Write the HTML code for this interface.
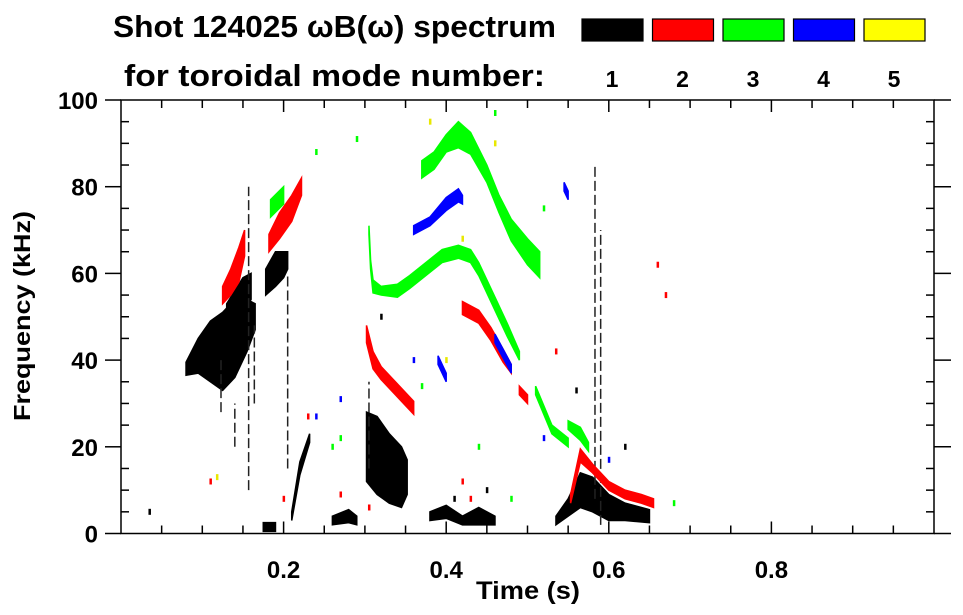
<!DOCTYPE html>
<html><head><meta charset="utf-8"><style>
body{margin:0;background:#fff;}
svg{display:block;font-family:"Liberation Sans",sans-serif;font-weight:bold;}
</style></head><body>
<svg id="c" width="963" height="615">
<text x="113" y="37" font-size="31" textLength="443" lengthAdjust="spacingAndGlyphs">Shot 124025 ωB(ω) spectrum</text>
<text x="124" y="86" font-size="31" textLength="421" lengthAdjust="spacingAndGlyphs">for toroidal mode number:</text>
<text x="30" y="316" font-size="23" text-anchor="middle" textLength="210" lengthAdjust="spacingAndGlyphs" transform="rotate(-90 30 316)">Frequency (kHz)</text>
<text x="528" y="599" font-size="25" text-anchor="middle" textLength="104" lengthAdjust="spacingAndGlyphs">Time (s)</text>
<g id="marks"></g>
<g id="axes"></g>
<g id="legend"></g>
</svg>
<script>
const xTicks=[0.2,0.4,0.6,0.8];
const yTicks=[0,20,40,60,80,100];
const modes=['1','2','3','4','5'];
const modeColors=['#000000','#ff0000','#00ff00','#0000ff','#ffff00'];
// tracks: [time s, freq kHz, half-width kHz]
const mode1Tracks=[
 [[0.080,38,1.5],[0.095,41,4],[0.11,42,7],[0.125,42,9],[0.14,45,9],[0.155,48,6],[0.165,50,3]],
 [[0.13,50,3],[0.15,55,4],[0.16,57,3]],
 [[0.178,58,3],[0.19,61,4],[0.20,62,3],[0.205,63,2]],
 [[0.210,4,1],[0.22,15,1.5],[0.232,22,1]],
 [[0.302,20,8],[0.315,18,9],[0.33,15,8],[0.345,13,7],[0.352,13,4]],
 [[0.38,4,1],[0.40,5,1.5],[0.42,3,1],[0.44,4,2],[0.46,3,1]],
 [[0.535,3,1],[0.55,6,2],[0.565,10,4],[0.58,9,4],[0.60,6,3],[0.62,5,2],[0.65,4,1.5]],
 [[0.26,3,1],[0.28,4,1.5],[0.29,3,1]],
 [[0.175,1.5,1],[0.19,1.5,1]]
];
const mode1Lines=[[0.157,10,80],[0.164,30,48],[0.205,15,60],[0.305,15,35],[0.583,8,85],[0.59,2,70],[0.123,28,40],[0.14,20,30]];
const mode2Tracks=[
 [[0.125,55,2],[0.135,58,3],[0.145,62,4],[0.152,67,3]],
 [[0.182,67,2],[0.195,71,3],[0.21,75,3],[0.222,80,2]],
 [[0.302,46,2],[0.31,40,2],[0.32,37,1.5],[0.335,34,1.5],[0.35,31,1.5],[0.36,29,1.5]],
 [[0.42,52,1.5],[0.44,50,1.5],[0.455,46,1.5],[0.47,41,1.5],[0.48,38,1]],
 [[0.553,8,1],[0.565,18,1.5],[0.58,15,1],[0.60,11,1],[0.62,9,1],[0.64,8,1],[0.655,7,1]],
 [[0.49,33,1],[0.50,31,1]]
];
const mode3Tracks=[
 [[0.184,75,2],[0.20,78,2]],
 [[0.305,70,1],[0.307,62,1],[0.31,57,1.5],[0.32,56,1],[0.34,56,1.5],[0.355,58,1.5],[0.375,61,1.5],[0.395,64,1.5],[0.415,65,1.5],[0.43,64,1.5],[0.44,61,1.5],[0.46,53,1.5],[0.475,47,1.5],[0.49,41,1]],
 [[0.37,84,2],[0.385,86,2],[0.40,90,2],[0.415,92,3],[0.43,90,2.5],[0.45,83,2],[0.465,76,2],[0.48,70,2.5],[0.50,65,3],[0.515,62,3]],
 [[0.51,33,1],[0.53,24,1],[0.55,21,1]],
 [[0.55,25,1],[0.565,23,1.5],[0.575,20,1]]
];
const mode4Tracks=[
 [[0.36,70,1],[0.38,72,1],[0.40,76,1.5],[0.415,78,1.5],[0.42,77,1]],
 [[0.545,80,1],[0.55,78,1]],
 [[0.39,40,1],[0.40,36,1]],
 [[0.46,45,1],[0.48,38,1]]
];
const mode1Dots=[[0.035,5],[0.32,50],[0.41,8],[0.45,10],[0.56,33],[0.62,20]];
const mode2Dots=[[0.11,12],[0.20,8],[0.27,9],[0.23,27],[0.42,12],[0.43,8],[0.66,62],[0.535,42],[0.67,55],[0.305,6]];
const mode3Dots=[[0.24,88],[0.29,91],[0.26,20],[0.27,22],[0.46,97],[0.48,8],[0.44,20],[0.52,75],[0.37,34],[0.68,7]];
const mode4Dots=[[0.24,27],[0.27,31],[0.36,40],[0.52,22],[0.6,17]];
const mode5Dots=[[0.118,13],[0.4,40],[0.42,68],[0.38,95],[0.46,90]];

const X0=121,X1=934,Y0=533.5,Y1=100;
const xs=t=>X0+t*(X1-X0);
const ys=f=>Y0-f/100*(Y0-Y1);
const NS='http://www.w3.org/2000/svg';
function mk(tag,attrs,parent){const e=document.createElementNS(NS,tag);for(const k in attrs)e.setAttribute(k,attrs[k]);parent.appendChild(e);return e;}
const marks=document.getElementById('marks');
const axes=document.getElementById('axes');
const legend=document.getElementById('legend');

function drawTracks(tracks,color,mode){
 tracks.forEach(tr=>{
  const top=tr.map(p=>xs(p[0])+','+ys(p[1]+p[2]));
  const bot=tr.slice().reverse().map(p=>xs(p[0])+','+ys(p[1]-p[2]));
  const e=mk('polygon',{points:top.concat(bot).join(' '),fill:color,stroke:color,'stroke-width':1.5},marks);
  
  
 });
}
function drawDots(dots,color,mode){
 dots.forEach(d=>{
  const e=mk('rect',{x:xs(d[0])-1,y:ys(d[1])-3,width:2.5,height:6,fill:color},marks);
  
  
 });
}
drawTracks(mode1Tracks,modeColors[0],1);
mode1Lines.forEach(l=>{
 const e=mk('line',{x1:xs(l[0]),x2:xs(l[0]),y1:ys(l[1]),y2:ys(l[2]),stroke:'#222','stroke-width':1.5,'stroke-dasharray':'10 4'},marks);
 
 
});
drawTracks(mode2Tracks,modeColors[1],2);
drawTracks(mode3Tracks,modeColors[2],3);
drawTracks(mode4Tracks,modeColors[3],4);
drawDots(mode1Dots,modeColors[0],1);
drawDots(mode2Dots,modeColors[1],2);
drawDots(mode3Dots,modeColors[2],3);
drawDots(mode4Dots,modeColors[3],4);
drawDots(mode5Dots,'#e8e800',5);

const fr=mk('rect',{x:X0,y:Y1,width:X1-X0,height:Y0-Y1,fill:'none',stroke:'#000','stroke-width':1.5},axes);


for(let i=1;i<20;i++){
 const t=i*0.05,maj=(i%4===0),len=maj?12:8;
 mk('line',{x1:xs(t),x2:xs(t),y1:Y0,y2:Y0-len,stroke:'#000','stroke-width':1.5},axes);
 mk('line',{x1:xs(t),x2:xs(t),y1:Y1,y2:Y1+len,stroke:'#000','stroke-width':1.5},axes);
}
xTicks.forEach(t=>{
 const e=mk('text',{x:xs(t),y:578,'font-size':24,'text-anchor':'middle'},axes);
 e.textContent=t.toFixed(1);
 
 
});
for(let v=5;v<100;v+=5){
 if(v%20===0)continue;
 mk('line',{x1:X0,x2:X0+8,y1:ys(v),y2:ys(v),stroke:'#000','stroke-width':1.5},axes);
 mk('line',{x1:X1,x2:X1-8,y1:ys(v),y2:ys(v),stroke:'#000','stroke-width':1.5},axes);
}
yTicks.forEach(v=>{
 mk('line',{x1:105,x2:X0,y1:ys(v),y2:ys(v),stroke:'#000','stroke-width':1.5},axes);
 mk('line',{x1:X1,x2:951,y1:ys(v),y2:ys(v),stroke:'#000','stroke-width':1.5},axes);
 const e=mk('text',{x:98,y:ys(v)+9,'font-size':24,'text-anchor':'end'},axes);
 e.textContent=v;
 
 
});
modes.forEach((m,i)=>{
 const x=582+i*70.5;
 const r=mk('rect',{x:x,y:19,width:61,height:22,fill:modeColors[i],stroke:'#000','stroke-width':1.2},legend);
 
 
 const t=mk('text',{x:x+30,y:87,'font-size':23,'text-anchor':'middle'},legend);
 t.textContent=m;
 
 
});
</script>
</body></html>
